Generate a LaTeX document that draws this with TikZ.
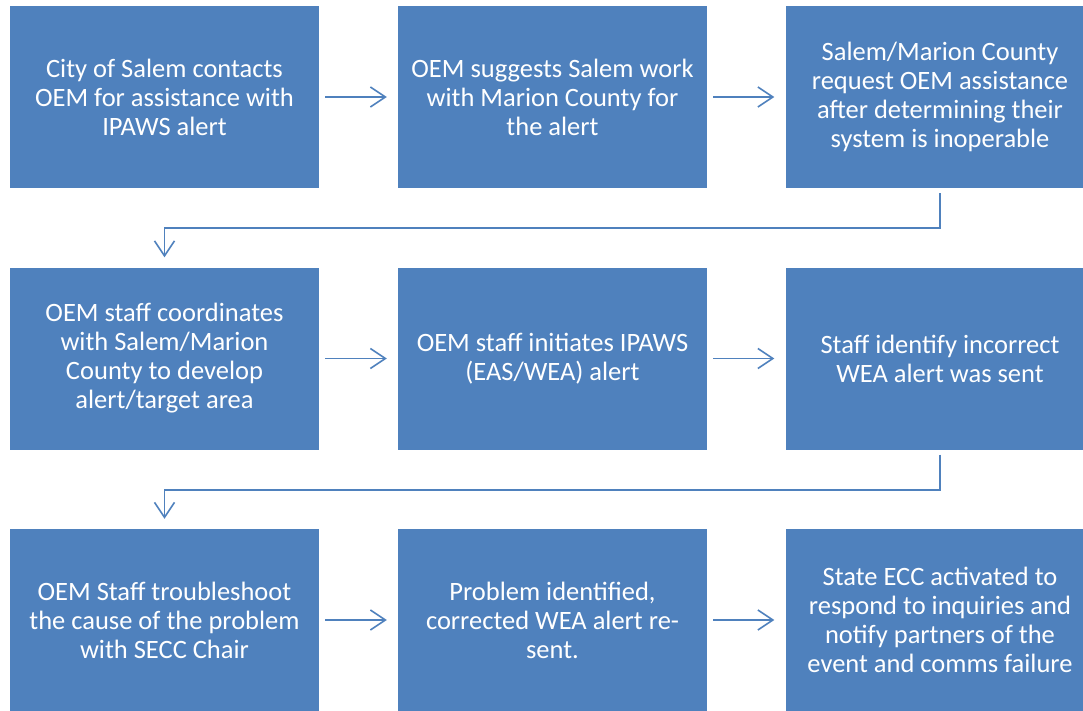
\documentclass[tikz,border=0pt]{standalone}
\usepackage{fontspec}
\setmainfont{Carlito}
\usetikzlibrary{arrows.meta}
\definecolor{boxblue}{HTML}{4F81BD}
\begin{document}
\begin{tikzpicture}[x=1pt,y=-1pt,
  stepbox/.style={fill=boxblue, draw=none, minimum width=309pt, minimum height=182pt,
    inner sep=0pt, text=white, align=center,
    font=\fontsize{26.5pt}{29pt}\selectfont},
  flow/.style={draw=boxblue, line width=1.6pt,
    -{Straight Barb[length=15pt,width=20pt,line width=1.6pt]}},
]
\clip (0,0) rectangle (1083,710);
\fill[white] (0,0) rectangle (1083,710);

% first row
\node[stepbox] (a1) at (164.5,97) {City of Salem contacts\\OEM for assistance with\\IPAWS alert};
\node[stepbox] (a2) at (552.5,97) {OEM suggests Salem work\\with Marion County for\\the alert};
\node[stepbox] (a3) at (940,97) {Salem/Marion County\\request OEM assistance\\after determining their\\system is inoperable};

% second row
\node[stepbox] (b1) at (164.5,358.5) {OEM staff coordinates\\with Salem/Marion\\County to develop\\alert/target area};
\node[stepbox] (b2) at (552.5,358.5) {OEM staff initiates IPAWS\\(EAS/WEA) alert};
\node[stepbox] (b3) at (940,358.5) {Staff identify incorrect\\WEA alert was sent};

% third row
\node[stepbox] (c1) at (164.5,620) {OEM Staff troubleshoot\\the cause of the problem\\with SECC Chair};
\node[stepbox] (c2) at (552.5,620) {Problem identified,\\corrected WEA alert re-\\sent.};
\node[stepbox] (c3) at (940,620) {State ECC activated to\\respond to inquiries and\\notify partners of the\\event and comms failure};

% connectors within rows
\foreach \s/\t in {a1/a2,a2/a3,b1/b2,b2/b3,c1/c2,c2/c3}
  \draw[flow, shorten <=6pt, shorten >=11pt] (\s.east) -- (\t.west);

% elbow connectors between rows
\draw[flow, shorten <=5pt, shorten >=10pt] (a3.south) -- ++(0,40) -| (b1.north);
\draw[flow, shorten <=5pt, shorten >=10pt] (b3.south) -- ++(0,40) -| (c1.north);
\end{tikzpicture}
\end{document}
